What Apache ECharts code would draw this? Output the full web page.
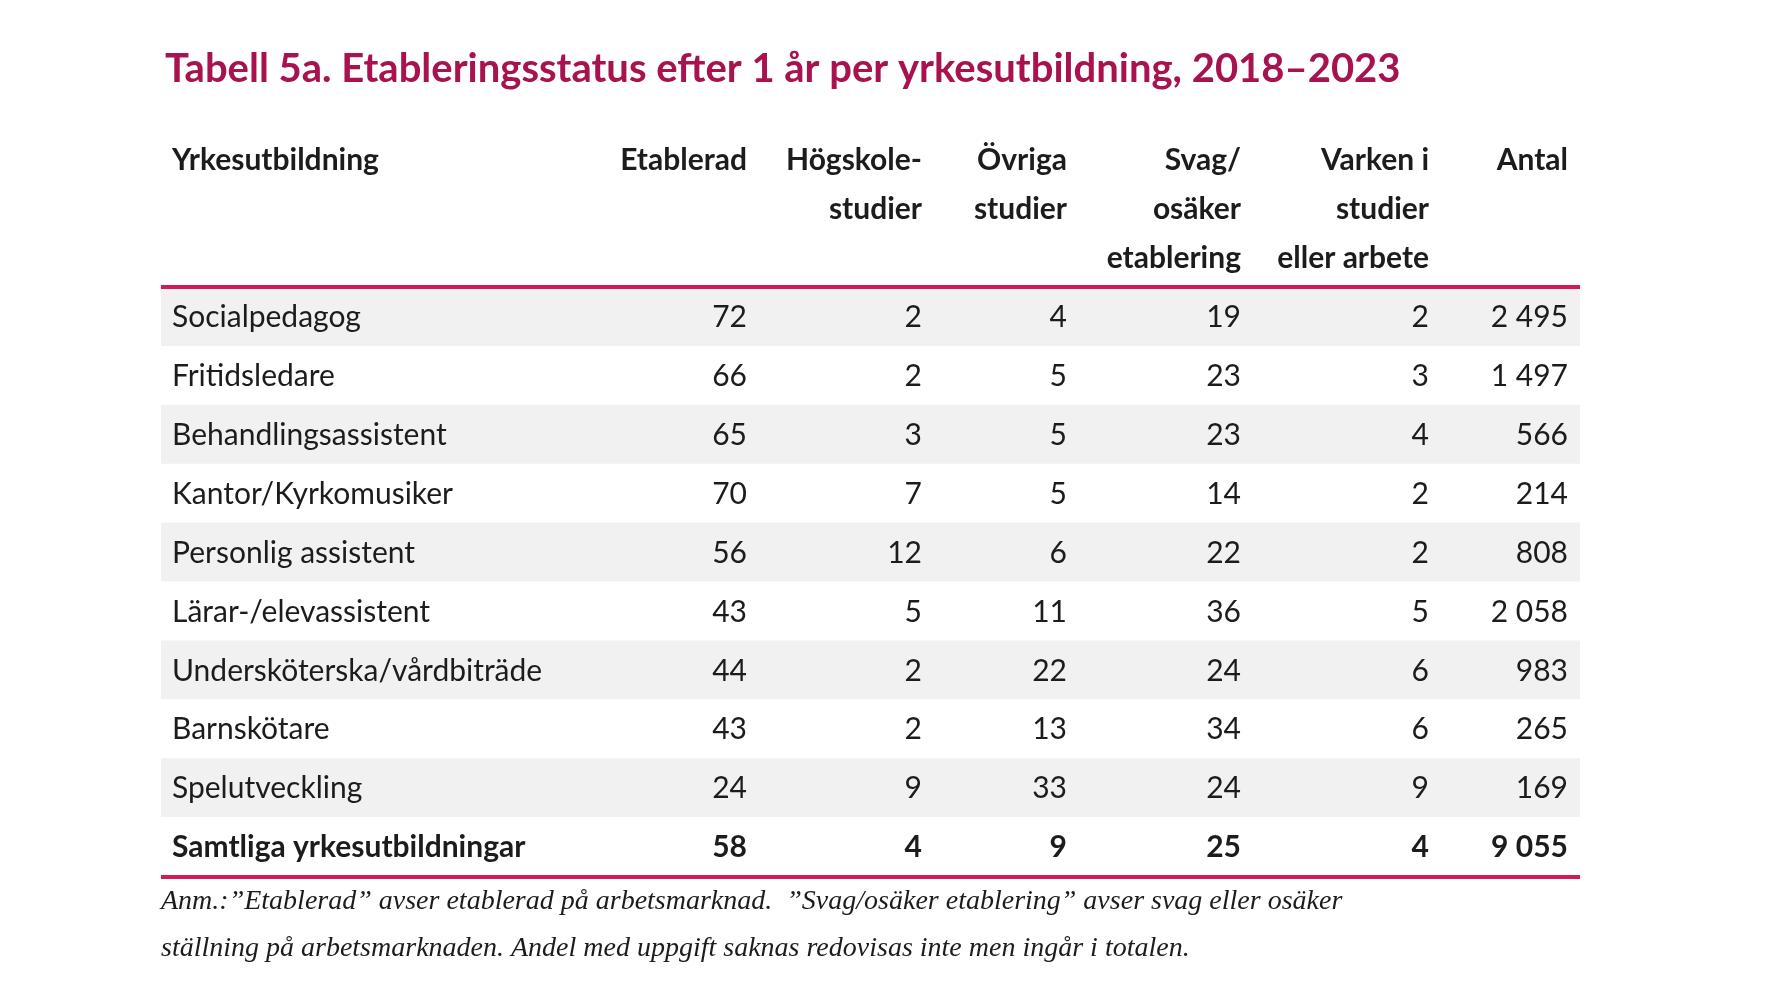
<!DOCTYPE html>
<html>
<head>
<meta charset="utf-8">
<script src="https://cdn.jsdelivr.net/npm/echarts@6/dist/echarts.min.js"></script>
<style>html,body{margin:0;background:#fff}#main{width:1784px;height:1002px}</style>
</head>
<body>
<div id="main"></div>
<script>
// 数据
const columns = ['Yrkesutbildning', 'Etablerad', 'Högskole-\nstudier', 'Övriga\nstudier', 'Svag/\nosäker\netablering', 'Varken i\nstudier\neller arbete', 'Antal']
const programs = ['Socialpedagog', 'Fritidsledare', 'Behandlingsassistent', 'Kantor/Kyrkomusiker', 'Personlig assistent',
  'Lärar-/elevassistent', 'Undersköterska/vårdbiträde', 'Barnskötare', 'Spelutveckling', 'Samtliga yrkesutbildningar']
const etablerad = [72, 66, 65, 70, 56, 43, 44, 43, 24, 58]
const hogskole = [2, 2, 3, 7, 12, 5, 2, 2, 9, 4]
const ovriga = [4, 5, 5, 5, 6, 11, 22, 13, 33, 9]
const svag = [19, 23, 23, 14, 22, 36, 24, 34, 24, 25]
const varken = [2, 3, 4, 2, 2, 5, 6, 6, 9, 4]
const antal = ['2 495', '1 497', '566', '214', '808', '2 058', '983', '265', '169', '9 055']

// 布局（像素）
const tableLeft = 161, tableWidth = 1419, tableTop = 287, tableBottom = 876
const colX = [11, 586, 761, 906, 1080, 1268, 1407] // 第一列左对齐，其余右对齐
const red = '#d3185c', ink = '#1c1c1c'
const font = 'Lato, "Noto Sans", sans-serif'

const dom = document.querySelector('#main')
const myChart = echarts.init(dom)

const valueCols = [etablerad, hogskole, ovriga, svag, varken, antal]
const cells = []
programs.forEach((name, r) => {
  cells.push([colX[0], r, name, 0])
  valueCols.forEach((arr, c) => cells.push([colX[c + 1], r, String(arr[r]), c + 1]))
})

const last = programs.length - 1
const option = {
  title: {
    text: 'Tabell 5a. Etableringsstatus efter 1 år per yrkesutbildning, 2018–2023',
    left: 160, top: 44,
    textStyle: { fontFamily: font, fontSize: 40, fontWeight: 'bold', color: '#a8134f' }
  },
  grid: { left: tableLeft, width: tableWidth, top: tableTop, bottom: 1002 - tableBottom },
  xAxis: { type: 'value', min: 0, max: tableWidth, show: false },
  yAxis: { type: 'category', data: programs, inverse: true, show: false },
  series: [{
    type: 'custom',
    data: cells,
    renderItem: function (params, api) {
      const x = api.coord([api.value(0), api.value(1)])
      const size = api.size([0, 1])
      const r = api.value(1), c = api.value(3)
      const bold = r === last
      const children = []
      if (c === 0 && r % 2 === 0 && r !== last) {
        const left = api.coord([0, r])[0]
        children.push({ type: 'rect', shape: { x: left, y: x[1] - size[1] / 2, width: tableWidth, height: size[1] }, style: { fill: '#f1f1f1' }, z2: 0 })
      }
      children.push({
        type: 'text', z2: 10,
        style: {
          x: x[0], y: x[1] + 1, text: api.value(2),
          align: c === 0 ? 'left' : 'right', verticalAlign: 'middle',
          font: (bold ? 'bold ' : '') + '30px ' + font, fill: ink
        }
      })
      return { type: 'group', children: children }
    }
  }],
  graphic: [
    { type: 'rect', shape: { x: tableLeft, y: tableTop - 2, width: tableWidth, height: 4 }, style: { fill: red }, z: 10 },
    { type: 'rect', shape: { x: tableLeft, y: tableBottom - 1, width: tableWidth, height: 4 }, style: { fill: red }, z: 10 },
    ...columns.map((t, i) => ({
      type: 'text',
      style: {
        x: tableLeft + colX[i], y: 136, text: t, align: i === 0 ? 'left' : 'right', verticalAlign: 'top',
        font: 'bold 30px ' + font, fill: ink, lineHeight: 49
      }
    })),
    {
      type: 'text',
      style: {
        x: 161, y: 878,
        text: 'Anm.:”Etablerad” avser etablerad på arbetsmarknad.  ”Svag/osäker etablering” avser svag eller osäker\nställning på arbetsmarknaden. Andel med uppgift saknas redovisas inte men ingår i totalen.',
        font: 'italic 28px "Liberation Serif", "DejaVu Serif", serif', fill: ink, lineHeight: 47
      }
    }
  ]
}
myChart.setOption(option)
</script>
</body>
</html>
